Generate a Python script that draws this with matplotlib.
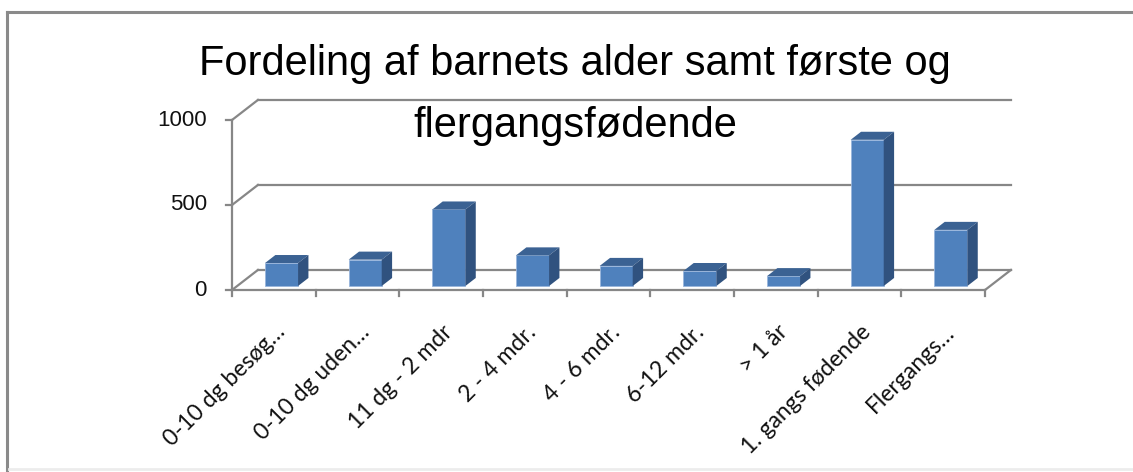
import matplotlib
matplotlib.use('Agg')
import matplotlib.pyplot as plt
from matplotlib.patches import Polygon
from matplotlib.lines import Line2D

# data
categories = ['0-10 dg besøg…', '0-10 dg uden…', '11 dg - 2 mdr', '2 - 4 mdr.',
              '4 - 6 mdr.', '6-12 mdr.', '> 1 år', '1. gangs fødende', 'Flergangs…']
values = [135, 155, 450, 180, 118, 88, 58, 860, 330]
yticks = [0, 500, 1000]
title_lines = ['Fordeling af barnets alder samt første og', 'flergangsfødende']

W, H = 1133, 472
fig = plt.figure(figsize=(W / 100, H / 100), dpi=100)

# front plane: x 232..985 px, y 290 (0) .. 120 (1000) px
ax = fig.add_axes([232 / W, (H - 290) / H, (985 - 232) / W, 170 / H])
n = len(categories)
ax.set_xlim(0, n)
ax.set_ylim(0, 1000)
ax.axis('off')

grid = '#878787'
dx, dy = 0.31, 118.0          # depth offset of the back wall (data units)
front_c, top_c, side_c = '#4f81bd', '#3b6293', '#30527f'

# back wall gridlines + oblique connectors on the side wall
for t in yticks:
    ax.plot([dx, n + dx], [t + dy, t + dy], color=grid, lw=1.6, clip_on=False, zorder=1)
    ax.plot([0, dx], [t, t + dy], color=grid, lw=1.6, clip_on=False, zorder=1)
    ax.plot([-0.075, 0], [t, t], color=grid, lw=1.6, clip_on=False, zorder=1)
    ax.text(-0.3, t, str(t), ha='right', va='center', fontsize=16,
            family='Liberation Sans', color='#111111')

# front y axis and floor edges
ax.plot([0, 0], [0, 1000], color=grid, lw=1.6, clip_on=False, zorder=1)
ax.plot([0, n], [0, 0], color=grid, lw=1.6, clip_on=False, zorder=5)
ax.plot([n, n + dx], [0, dy], color=grid, lw=1.6, clip_on=False, zorder=5)
for i in range(n + 1):
    ax.plot([i, i], [0, -38], color=grid, lw=1.6, clip_on=False, zorder=5)

# 3D columns
d0, d1 = 0.2, 0.6
bw = 0.395
xs = [i + 0.53 + d0 * dx for i in range(n)]
b0 = d0 * dy
ax.bar(xs, values, width=bw, bottom=b0, color=front_c, edgecolor='#9ab6dc',
       linewidth=0.6, zorder=3, clip_on=False)
ddx, ddy = (d1 - d0) * dx, (d1 - d0) * dy
for x, v in zip(xs, values):
    xl, xr, top = x - bw / 2, x + bw / 2, v + b0
    ax.add_patch(Polygon([(xl, top), (xr, top), (xr + ddx, top + ddy), (xl + ddx, top + ddy)],
                         closed=True, fc=top_c, ec='none', zorder=3, clip_on=False))
    ax.add_patch(Polygon([(xr, b0), (xr, top), (xr + ddx, top + ddy), (xr + ddx, b0 + ddy)],
                         closed=True, fc=side_c, ec='none', zorder=3, clip_on=False))

# category labels
for i, lab in enumerate(categories):
    ax.text(i + 0.6, -228, lab, rotation=45, rotation_mode='anchor', ha='right', va='center',
            fontsize=16.5, family='Lato', color='#111111', clip_on=False)

# title, two lines
for ln, yb in zip(title_lines, [75, 137]):
    fig.text(575 / W, 1 - yb / H, ln, ha='center', va='baseline', fontsize=30,
             family='Liberation Sans', color='#000000')

# chart frame
fig.add_artist(Line2D([7 / W, 1], [1 - 12 / H, 1 - 12 / H], color='#8a8a8a', lw=2.2,
                      transform=fig.transFigure))
fig.add_artist(Line2D([7 / W, 7 / W], [1 - 12 / H, 0], color='#8a8a8a', lw=2.2,
                      transform=fig.transFigure))
fig.add_artist(Line2D([9 / W, 1], [3 / H, 3 / H], color='#ececec', lw=2.0,
                      transform=fig.transFigure))

fig.savefig('out.png', dpi=100)
